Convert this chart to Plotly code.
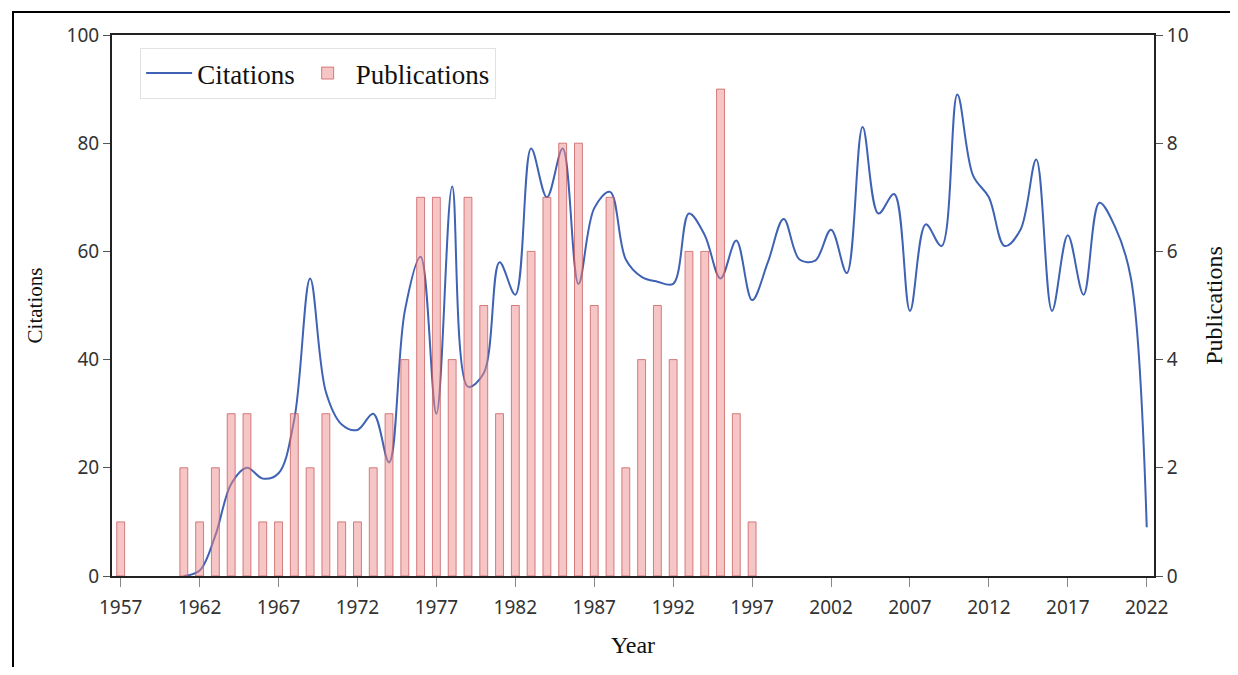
import plotly.graph_objects as go

pub_years = list(range(1957, 1998))
publications = [1, 0, 0, 0, 2, 1, 2, 3, 3, 1, 1, 3, 2, 3, 1, 1, 2, 3, 4, 7,
                7, 4, 7, 5, 3, 5, 6, 7, 8, 8, 5, 7, 2, 4, 5, 4, 6, 6, 9, 3, 1]

cit_years = list(range(1961, 2023))
citations = [0, 1, 7.5, 17, 20, 18, 19, 29, 55, 34, 28, 27, 30, 21, 49, 59, 30, 72,
             35, 37.5, 58, 52, 79, 70, 79, 54, 68, 71, 58.5, 55.3, 54.4, 54, 67, 63,
             55, 62, 51, 58, 66, 58.5, 58.3, 64, 56, 83, 67, 70.6, 49, 65, 61, 89,
             74, 70, 61, 64, 77, 49, 63, 52, 69, 64.5, 55, 9]

tick_years = list(range(1957, 2023, 5))

serif = "Liberation Serif, Times New Roman, serif"
sans = "Noto Sans, Open Sans, sans-serif"

# zero-count years draw no bar
bar_x = [yr for yr, v in zip(pub_years, publications) if v > 0]
bar_y = [v for v in publications if v > 0]

fig = go.Figure()
fig.add_trace(go.Scatter(
    x=cit_years, y=citations, name="Citations", mode="lines",
    line=dict(color="#3f62b4", width=2, shape="spline", smoothing=1.0),
    yaxis="y"))
fig.add_trace(go.Bar(
    x=bar_x, y=bar_y, name="Publications", width=0.5,
    marker=dict(color="rgba(238,140,140,0.5)",
                line=dict(color="rgba(200,90,90,0.75)", width=1)),
    yaxis="y2"))

fig.update_layout(
    width=1222, height=659,
    margin=dict(l=104, r=76, t=27, b=91),
    paper_bgcolor="white", plot_bgcolor="white",
    showlegend=True,
    legend=dict(orientation="h", x=0.027, y=0.976, xanchor="left", yanchor="top",
                bgcolor="white", bordercolor="#e2e2e2", borderwidth=1,
                font=dict(family=serif, size=27, color="#111"),
                itemwidth=46, tracegroupgap=0),
    xaxis=dict(range=[1956.45, 2022.46], tickvals=tick_years, automargin=False,
               showline=True, linecolor="#222", linewidth=2, mirror=True,
               ticks="outside", ticklen=9, tickcolor="#888", tickwidth=1,
               ticklabelstandoff=4,
               showgrid=False, zeroline=False,
               tickfont=dict(family=sans, size=19, color="#333"),
               title=dict(text="Year", font=dict(family=serif, size=24, color="#111"),
                          standoff=17)),
    yaxis=dict(range=[0, 100], tickvals=[0, 20, 40, 60, 80, 100], automargin=False,
               showline=True, linecolor="#222", linewidth=2,
               ticks="outside", ticklen=7, tickcolor="#555",
               showgrid=False, zeroline=False,
               tickfont=dict(family=sans, size=19, color="#333"),
               title=dict(text="Citations", font=dict(family=serif, size=21, color="#111"),
                          standoff=18)),
    yaxis2=dict(range=[0, 10], tickvals=[0, 2, 4, 6, 8, 10], overlaying="y", side="right",
                automargin=False,
                showline=True, linecolor="#222", linewidth=2,
                ticks="outside", ticklen=7, tickcolor="#555",
                showgrid=False, zeroline=False,
                tickfont=dict(family=sans, size=19, color="#333"),
                title=dict(text="Publications", font=dict(family=serif, size=24, color="#111"),
                           standoff=18)),
    shapes=[dict(type="rect", xref="paper", yref="paper",
                 x0=-0.095, x1=1.079, y0=-0.25, y1=1.0425,
                 line=dict(color="black", width=2), fillcolor="rgba(0,0,0,0)",
                 layer="above")],
)

fig.write_html("out.html")
